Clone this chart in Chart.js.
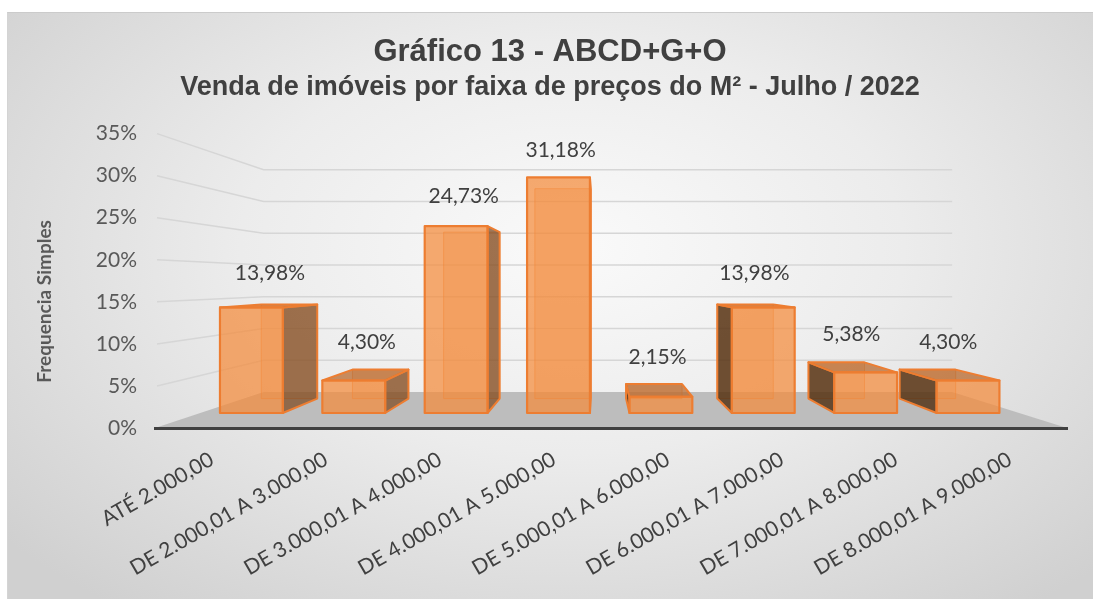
<!DOCTYPE html>
<html lang="pt-BR">
<head>
<meta charset="utf-8">
<title>Gráfico 13 - ABCD+G+O</title>
<script src="https://cdn.jsdelivr.net/npm/chart.js@4.4.1/dist/chart.umd.min.js"></script>
<style>
  html, body { margin: 0; padding: 0; background: #fff; }
  #wrap  { position: relative; width: 1093px; height: 599px; overflow: hidden; }
  #panel { position: absolute; left: 7px; top: 12px; right: 0; bottom: 0;
           background: radial-gradient(ellipse 68% 78% at 52% 40%, #fafafa 0%, #ececec 45%, #d0d0d0 100%);
           border-top: 1px solid #cbcbcb; border-left: 1px solid #d4d4d4; }
  canvas { position: absolute; left: 0; top: 0; }
</style>
</head>
<body>
<div id="wrap">
  <div id="panel"></div>
  <canvas id="chart" width="1093" height="599"></canvas>
</div>
<script>
/* ── Gráfico 13 — venda por faixa de preço do m² ───────────────────────────── */

// ── Data ──────────────────────────────────────────────────────────────────────
const categories = [
  'ATÉ 2.000,00',
  'DE 2.000,01 A 3.000,00',
  'DE 3.000,01 A 4.000,00',
  'DE 4.000,01 A 5.000,00',
  'DE 5.000,01 A 6.000,00',
  'DE 6.000,01 A 7.000,00',
  'DE 7.000,01 A 8.000,00',
  'DE 8.000,01 A 9.000,00',
];
const values = [13.98, 4.30, 24.73, 31.18, 2.15, 13.98, 5.38, 4.30];
const Y_MAX   = 35;
const Y_STEP  = 5;
const Y_TITLE = 'Frequencia Simples';

// ── 3D look ───────────────────────────────────────────────────────────────────
const DEPTH = { wall: 0.755, barFront: 0.898, barBack: 0.80, label: 0.85 };
const ORANGE = '#ED7D31';

const fmtPct = v => v.toFixed(2).replace('.', ',') + '%';

// projection toward a vanishing point inside the plot area
function projector(area) {
  const vx = area.left + (area.right - area.left) * 0.486;
  const vy = (area.top + area.bottom) / 2;
  return (x, y, s) => [vx + s * (x - vx), vy + s * (y - vy)];
}

function poly(ctx, pts, fill, stroke, lw) {
  ctx.beginPath();
  pts.forEach((p, i) => (i ? ctx.lineTo(p[0], p[1]) : ctx.moveTo(p[0], p[1])));
  ctx.closePath();
  if (fill)   { ctx.fillStyle = fill; ctx.fill(); }
  if (stroke) { ctx.strokeStyle = stroke; ctx.lineWidth = lw; ctx.lineJoin = 'round'; ctx.stroke(); }
}

// walls (grid lines) + floor + axis title, under everything
const wallsPlugin = {
  id: 'walls',
  beforeDraw(chart) {
    const { ctx, chartArea: a, scales: { y } } = chart;
    const P = projector(a);
    ctx.save();
    ctx.strokeStyle = '#d6d6d6';
    ctx.lineWidth = 1.5;
    y.ticks.forEach(t => {
      if (t.value === 0) return;
      const yf = y.getPixelForValue(t.value);
      const bl = P(a.left, yf, DEPTH.wall);
      const br = P(a.right, yf, DEPTH.wall);
      ctx.beginPath();
      ctx.moveTo(a.left + 2, yf);
      ctx.lineTo(bl[0], bl[1]);
      ctx.lineTo(br[0], br[1]);
      ctx.stroke();
    });
    const yb = y.getPixelForValue(0);
    poly(ctx, [[a.left, yb], [a.right, yb], P(a.right, yb, DEPTH.wall), P(a.left, yb, DEPTH.wall)], '#bdbdbd');

    // vertical axis title (sits a bit below the scale's middle, as in the original)
    ctx.translate(y.left + 12, y.getPixelForValue(Y_MAX * 0.43));
    ctx.rotate(-Math.PI / 2);
    ctx.font = 'bold 19px Lato, "Open Sans", sans-serif';
    ctx.fillStyle = '#595959';
    ctx.textAlign = 'center';
    ctx.textBaseline = 'middle';
    ctx.fillText(Y_TITLE, 0, 0);
    ctx.restore();
  },
};

// 3D boxes + value labels, built from the bar elements
const boxesPlugin = {
  id: 'boxes',
  afterDatasetsDraw(chart) {
    const { ctx, chartArea: a } = chart;
    const P = projector(a);
    const vx = a.left + (a.right - a.left) * 0.486;
    const meta = chart.getDatasetMeta(0);
    ctx.save();
    meta.data.forEach((el, i) => {
      const { x, y, base, width } = el.getProps(['x', 'y', 'base', 'width'], true);
      const xl = x - width / 2, xr = x + width / 2;
      const f = s => ({
        lt: P(xl, y, s), rt: P(xr, y, s), lb: P(xl, base, s), rb: P(xr, base, s),
      });
      const F = f(DEPTH.barFront), B = f(DEPTH.barBack);

      // back face seen through the glass
      poly(ctx, [B.lt, B.rt, B.rb, B.lb], 'rgba(240,140,60,0.25)', 'rgba(237,125,49,0.55)', 1);

      // side face
      if (x < vx) {
        poly(ctx, [F.rt, B.rt, B.rb, F.rb], 'rgba(125,72,30,0.72)', ORANGE, 2);
      } else {
        poly(ctx, [F.lt, B.lt, B.lb, F.lb], 'rgba(80,48,18,0.82)', ORANGE, 2);
      }
      // lid, only when seen from above
      if (B.lt[1] < F.lt[1]) {
        poly(ctx, [F.lt, F.rt, B.rt, B.lt], 'rgba(185,105,45,0.75)', ORANGE, 2);
      }
      // front face
      poly(ctx, [F.lt, F.rt, F.rb, F.lb], 'rgba(244,138,58,0.72)', ORANGE, 2.2);

      // value label
      const lp = P(x, y, DEPTH.label);
      ctx.font = '21px Lato, "Open Sans", sans-serif';
      ctx.fillStyle = '#404040';
      ctx.textAlign = 'center';
      ctx.textBaseline = 'middle';
      ctx.fillText(fmtPct(values[i]), lp[0], lp[1] - 33);
    });
    ctx.restore();
  },
};

// ── Chart ─────────────────────────────────────────────────────────────────────
new Chart(document.getElementById('chart'), {
  type: 'bar',
  data: {
    labels: categories,
    datasets: [{
      data: values,
      backgroundColor: 'rgba(0,0,0,0)',
      borderWidth: 0,
      categoryPercentage: 1,
      barPercentage: 0.614,
    }],
  },
  options: {
    responsive: false,
    animation: false,
    devicePixelRatio: 1,
    layout: { padding: { top: 12, left: 33, right: 26, bottom: 0 } },
    plugins: {
      legend : { display: false },
      tooltip: { enabled: false },
      title: {
        display: true,
        text: 'Gráfico 13 - ABCD+G+O',
        color: '#404040',
        font: { family: '"Liberation Sans", Arial, sans-serif', size: 31, weight: 'bold', lineHeight: 1.2 },
        padding: { top: 22, bottom: 0 },
      },
      subtitle: {
        display: true,
        text: 'Venda de imóveis por faixa de preços do M² - Julho / 2022',
        color: '#404040',
        font: { family: '"Liberation Sans", Arial, sans-serif', size: 27, weight: 'bold', lineHeight: 1.2 },
        padding: { top: 0, bottom: 30 },
      },
    },
    scales: {
      x: {
        grid: { display: false, drawTicks: false },
        border: { display: true, color: '#404040', width: 3 },
        ticks: {
          autoSkip: false,
          maxRotation: 30,
          minRotation: 30,
          padding: 19,
          color: '#404040',
          font: { family: 'Lato, "Open Sans", sans-serif', size: 21 },
        },
        afterFit: s => { s.height = 171; },
      },
      y: {
        min: 0,
        max: Y_MAX,
        grid: { display: false, drawTicks: false },
        border: { display: false },
        ticks: {
          stepSize: Y_STEP,
          padding: 18,
          color: '#595959',
          font: { family: 'Lato, "Open Sans", sans-serif', size: 21 },
          callback: v => v + '%',
        },
        afterFit: s => { s.width = 122; },
      },
    },
  },
  plugins: [wallsPlugin, boxesPlugin],
});
</script>
</body>
</html>
